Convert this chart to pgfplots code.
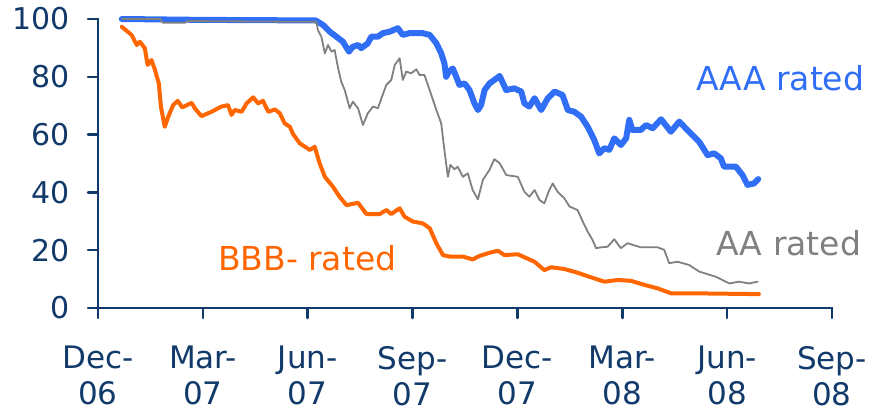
\documentclass[border=0pt]{standalone}
\usepackage{fontspec}
\setmainfont{DejaVu Sans}
\usepackage{pgfplots}
\pgfplotsset{compat=1.18}
\definecolor{navy}{HTML}{113A6A}
\definecolor{aaablue}{HTML}{2F6EF5}
\definecolor{aagrey}{HTML}{808080}
\definecolor{bbborange}{HTML}{FF6600}
\begin{document}
\begin{tikzpicture}
\begin{axis}[
  at={(0pt,0pt)}, anchor=origin,
  scale only axis, width=734pt, height=289pt,
  xmin=0, xmax=21, ymin=0, ymax=100,
  axis x line*=bottom, axis y line*=left,
  axis line style={navy, line width=2.5pt},
  tick style={navy, line width=2.5pt},
  tick align=outside, major tick length=10pt,
  xtick={0,3,...,21},
  xticklabels={{Dec-\\06},{Mar-\\07},{Jun-\\07},{Sep-\\07},{Dec-\\07},{Mar-\\08},{Jun-\\08},{Sep-\\08}},
  ytick={0,20,...,100},
  /pgf/number format/assume math mode=true,
  yticklabel style={font=\fontsize{30}{35}\selectfont, text=navy, anchor=east, inner sep=0pt, xshift=-18pt},
  xticklabel style={font=\fontsize{31}{36}\selectfont, text=navy, align=center, anchor=north, inner sep=0pt, yshift=-28pt},
  clip=false,
  line join=round, line cap=round,
]
\addplot[aaablue, line width=6pt] coordinates {
(0.68,100) (2.91,99.7) (6.23,99.5) (6.44,97.9) (6.63,95.6) (6.82,93.9) (7.01,92.1) (7.18,88.7) (7.29,90.4) (7.44,91.0) (7.53,89.9) (7.72,91.6) (7.82,93.9) (8.01,93.9) (8.15,95.1) (8.34,95.6) (8.58,96.8) (8.72,94.5) (8.91,95.1) (9.29,95.1) (9.49,94.5) (9.68,91.6) (9.82,88.1) (9.91,84.7) (9.96,80.0) (10.04,81.8) (10.15,82.9) (10.25,80.0) (10.34,77.2) (10.49,77.7) (10.63,75.4) (10.77,70.8) (10.87,68.5) (10.96,70.2) (11.06,75.4) (11.20,77.7) (11.34,78.9) (11.49,80.3) (11.68,75.4) (11.91,76.0) (12.11,74.9) (12.20,70.8) (12.34,69.7) (12.49,72.6) (12.68,68.5) (12.87,72.6) (13.06,74.9) (13.29,73.7) (13.44,68.5) (13.63,67.9) (13.82,66.2) (14.01,62.7) (14.20,58.1) (14.34,53.5) (14.49,55.3) (14.63,54.7) (14.77,58.7) (14.96,56.4) (15.11,58.7) (15.20,65.1) (15.29,61.6) (15.53,61.6) (15.68,63.3) (15.87,62.2) (16.11,65.3) (16.39,61.0) (16.63,64.5) (16.91,61.0) (17.20,57.5) (17.44,52.9) (17.63,53.5) (17.82,51.8) (17.91,48.9) (18.25,48.9) (18.44,46.0) (18.58,42.6) (18.77,43.1) (18.89,44.6)
};
\addplot[aagrey, line width=1.8pt] coordinates {
(0.68,100) (1.77,100) (1.86,98.7) (2.49,98.7) (2.57,99.3) (6.25,99.0) (6.29,96.2) (6.39,93.9) (6.49,88.1) (6.58,91.0) (6.68,88.7) (6.77,89.3) (6.87,82.9) (6.96,78.3) (7.06,75.4) (7.20,69.1) (7.29,71.4) (7.44,69.1) (7.58,63.3) (7.72,67.4) (7.87,69.7) (8.01,69.1) (8.11,72.6) (8.25,77.2) (8.39,78.9) (8.49,84.1) (8.63,86.4) (8.72,78.9) (8.82,81.8) (8.96,81.2) (9.11,82.6) (9.20,80.6) (9.34,80.6) (9.49,75.4) (9.68,68.5) (9.82,63.9) (9.91,54.7) (10.01,45.4) (10.08,49.5) (10.20,48.0) (10.29,48.9) (10.44,45.4) (10.58,46.6) (10.72,40.8) (10.87,37.6) (11.01,44.3) (11.20,47.8) (11.34,51.5) (11.49,50.1) (11.68,46.0) (12.01,45.4) (12.20,40.2) (12.34,38.5) (12.49,40.8) (12.63,37.4) (12.77,36.2) (12.91,40.8) (13.01,43.1) (13.15,40.2) (13.34,38.0) (13.49,35.1) (13.72,33.9) (13.87,29.9) (14.01,26.4) (14.15,23.5) (14.25,20.7) (14.39,21.0) (14.58,21.2) (14.77,23.8) (14.96,20.7) (15.15,22.4) (15.53,21.0) (16.01,21.0) (16.20,20.1) (16.34,15.5) (16.58,16.0) (16.91,14.9) (17.20,12.6) (17.68,10.8) (18.06,8.5) (18.34,9.1) (18.63,8.5) (18.87,9.1)
};
\addplot[bbborange, line width=4pt] coordinates {
(0.68,97.3) (0.96,94.5) (1.11,91.0) (1.20,92.1) (1.34,89.9) (1.42,84.1) (1.53,85.8) (1.63,82.4) (1.74,77.7) (1.80,69.7) (1.91,62.7) (2.01,66.2) (2.15,70.2) (2.28,71.7) (2.41,69.4) (2.68,71.0) (2.77,69.1) (2.96,66.4) (3.25,67.9) (3.53,69.7) (3.72,70.2) (3.82,66.8) (3.91,68.5) (4.11,67.9) (4.25,70.8) (4.44,72.9) (4.58,70.8) (4.72,71.7) (4.87,67.9) (5.06,68.7) (5.20,67.4) (5.34,63.9) (5.49,62.7) (5.58,60.2) (5.77,57.0) (6.06,54.7) (6.20,55.8) (6.34,50.1) (6.49,45.4) (6.72,42.0) (6.91,38.5) (7.11,35.6) (7.44,36.4) (7.68,32.5) (8.06,32.5) (8.25,33.9) (8.39,32.5) (8.63,34.5) (8.77,31.6) (9.01,29.9) (9.29,29.3) (9.49,27.6) (9.68,22.4) (9.87,18.3) (10.06,17.8) (10.44,17.8) (10.72,16.8) (10.91,18.0) (11.20,19.1) (11.44,19.8) (11.63,18.3) (12.01,18.6) (12.49,16.0) (12.77,13.1) (12.96,14.1) (13.34,13.5) (13.72,12.2) (14.11,10.6) (14.49,9.1) (14.87,9.7) (15.25,9.4) (15.63,8.0) (16.01,6.8) (16.39,5.1) (16.91,5.1) (18.91,4.8)
};
\node[anchor=base west, inner sep=0pt, text=aaablue, font=\fontsize{33}{36}\selectfont] at (axis cs:17.11,75.4) {AAA rated};
\node[anchor=base west, inner sep=0pt, text=aagrey, font=\fontsize{33}{36}\selectfont] at (axis cs:17.69,18.0) {AA rated};
\node[anchor=base west, inner sep=0pt, text=bbborange, font=\fontsize{33}{36}\selectfont] at (axis cs:3.43,13.1) {BBB- rated};
\end{axis}
\pgfresetboundingbox
\path (-98pt,-104pt) rectangle (774pt,308pt);
\end{tikzpicture}
\end{document}
